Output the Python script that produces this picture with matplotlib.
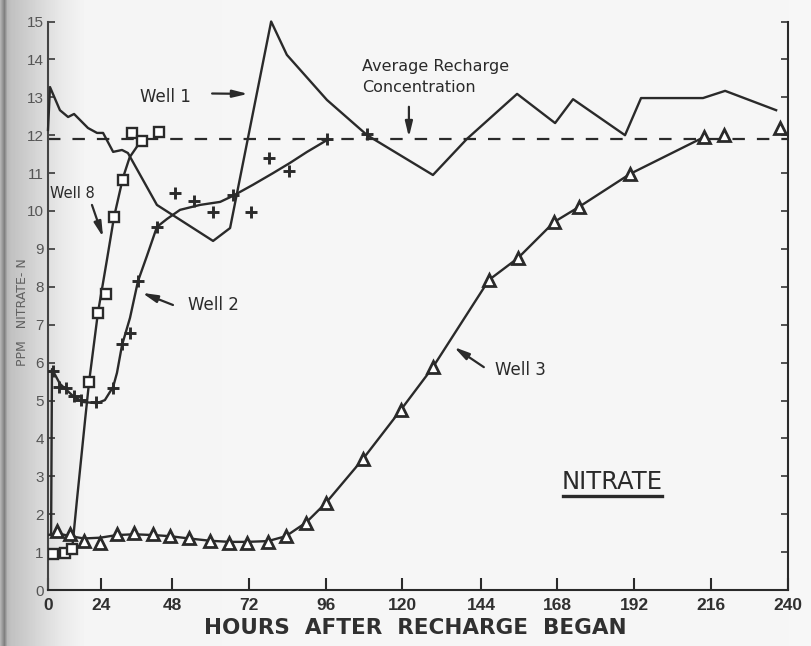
import numpy as np
import matplotlib
matplotlib.use("Agg")
import matplotlib.pyplot as plt
from matplotlib.lines import Line2D

# ---------------- data (hours after recharge began, ppm nitrate-N) ----------------
W1_HOURS = [0, 0.9, 5.4, 9.1, 11.8, 18.1, 22.2, 24.7, 28.1, 31.1, 33.1, 42.9, 60.8, 66.1,
            78.9, 83.8, 96.3, 109.0, 129.4, 139.7, 155.4, 167.4, 173.0, 189.2, 194.2,
            213.5, 220.4, 236.3]
W1_PPM = [12.14, 13.27, 12.66, 12.48, 12.56, 12.19, 12.06, 12.06, 11.56, 11.61, 11.53, 10.16,
          9.21, 9.55, 15.0, 14.12, 12.93, 12.0, 10.95, 11.9, 13.09, 12.32, 12.95, 12.0,
          12.98, 12.98, 13.17, 12.66]

W8_HOURS = [2.3, 7.7, 10.9, 18.6, 22.6, 25.7, 28.4, 31.4, 34.5, 37.9, 43.6]
W8_PPM = [0.95, 0.98, 1.08, 5.49, 7.31, 7.81, 9.84, 10.82, 12.06, 11.85, 12.08]
W8_CURVE_HOURS = [2.3, 7.7, 10.9, 13.1, 16.8, 18.6, 22.6, 26.0, 28.4, 31.4, 33.7, 37.5]
W8_CURVE_PPM = [0.95, 0.98, 1.06, 2.37, 4.49, 5.49, 7.31, 8.71, 9.84, 10.87, 11.42, 11.85]

W2_HOURS = [2.3, 5.0, 8.2, 11.8, 14.9, 21.7, 28.1, 31.1, 33.8, 36.5, 42.9, 48.9, 54.9,
            60.8, 67.0, 72.6, 78.2, 84.5, 96.3, 109.0]
W2_PPM = [5.78, 5.36, 5.33, 5.12, 5.01, 4.96, 5.33, 6.49, 6.78, 8.15, 9.58, 10.47, 10.26,
          9.97, 10.42, 9.97, 11.40, 11.06, 11.90, 12.03]
W2_CURVE_HOURS = [1.4, 1.8, 5.4, 11.3, 15.9, 22.2, 25.3, 28.1, 29.4, 31.1, 33.8, 36.5, 39.5,
                  42.9, 46.3, 50.5, 56.7, 63.0, 67.0, 73.2, 79.5, 84.8, 90.1, 96.3]
W2_CURVE_PPM = [1.45, 5.83, 5.44, 5.12, 4.96, 4.93, 5.01, 5.36, 5.73, 6.46, 7.18, 8.15, 8.81,
                9.58, 9.79, 10.03, 10.16, 10.24, 10.40, 10.69, 11.00, 11.27, 11.56, 11.87]

W3_HOURS = [4.1, 10.0, 16.3, 23.6, 29.4, 35.2, 41.6, 47.3, 53.3, 59.8, 65.8, 71.4, 77.9,
            83.5, 89.8, 96.0, 107.7, 119.7, 129.4, 146.5, 155.7, 167.1, 174.9, 190.8,
            213.8, 220.1, 237.5]
W3_PPM = [1.55, 1.47, 1.30, 1.25, 1.47, 1.50, 1.48, 1.42, 1.36, 1.30, 1.25, 1.25, 1.27,
          1.42, 1.78, 2.30, 3.46, 4.76, 5.88, 8.18, 8.76, 9.71, 10.11, 10.98, 11.95,
          12.0, 12.19]
W3_CURVE_HOURS = [0, 4.1, 10.0, 16.3, 23.6, 29.4, 35.2, 41.6, 47.3, 53.3, 59.8, 65.8, 71.4,
                  77.9, 83.5, 89.8, 96.0, 107.7, 119.7, 129.4, 146.5, 155.7, 167.1, 174.9,
                  190.8, 213.8]
W3_CURVE_PPM = [1.45, 1.50, 1.42, 1.36, 1.38, 1.45, 1.47, 1.45, 1.42, 1.36, 1.30, 1.27, 1.27,
                1.29, 1.42, 1.78, 2.30, 3.46, 4.76, 5.88, 8.18, 8.76, 9.71, 10.11, 10.98,
                11.95]

AVG_RECHARGE = 11.9

X_TICKS = [0, 24, 48, 72, 96, 120, 144, 168, 192, 216, 240]
X_TICK_LABELS = ["0", "24", "48", "72", "96", "120", "144", "168", "192", "216", "240"]
Y_TICKS = list(range(0, 16))

# ---------------- style ----------------
INK = "#2a2a2a"
PAPER = "#f6f6f4"
# page curvature of the scan near the binding (axis position of each hour tick)
WARP_POS = [0, 17.19, 40.22, 65.19, 90.16, 114.81, 140.43, 165.08, 190.05, 215.03, 240]


def fwd(h):
    return np.interp(h, X_TICKS, WARP_POS)


def inv(p):
    return np.interp(p, WARP_POS, X_TICKS)


fig = plt.figure(figsize=(8.12, 6.46), dpi=100)
fig.patch.set_facecolor(PAPER)

# scan shadow near the binding
bg = fig.add_axes([0, 0, 1, 1], zorder=-10)
xs = np.linspace(0, 812, 812)
shade = np.interp(xs, [0, 4, 7, 11, 25, 40, 60, 85, 812],
                  [0.70, 0.50, 0.72, 0.76, 0.80, 0.85, 0.91, 0.96, 0.965])
img = np.tile(shade, (10, 1))
bg.imshow(img, cmap="gray", vmin=0, vmax=1, aspect="auto", extent=[0, 1, 0, 1])
bg.set_axis_off()

ax = fig.add_axes([48 / 812, 56 / 646, 740 / 812, 568.5 / 646])
ax.set_facecolor("none")
ax.set_xscale("function", functions=(fwd, inv))
ax.set_xlim(0, 240)
ax.set_ylim(0, 15)

# average recharge concentration
ax.axhline(AVG_RECHARGE, color=INK, lw=1.6, dashes=(5.6, 5.4), zorder=2)

# Well 1
ax.plot(W1_HOURS, W1_PPM, color=INK, lw=1.7, zorder=3, clip_on=False)

# Well 8
ax.plot(W8_CURVE_HOURS, W8_CURVE_PPM, color=INK, lw=1.7, zorder=3)
ax.plot(W8_HOURS, W8_PPM, ls="none", marker="s", ms=7, mfc="white", mec=INK, mew=1.7, zorder=4)

# Well 2
ax.plot(W2_CURVE_HOURS, W2_CURVE_PPM, color=INK, lw=1.7, zorder=3)
ax.plot(W2_HOURS, W2_PPM, ls="none", marker="+", ms=8, mec=INK, mew=2.1, zorder=4)

# Well 3
ax.plot(W3_CURVE_HOURS, W3_CURVE_PPM, color=INK, lw=1.7, zorder=3)
ax.plot(W3_HOURS, W3_PPM, ls="none", marker="^", ms=8.5, mfc="white", mec=INK, mew=2.0, zorder=4,
        clip_on=False)

# axes styling
ax.spines["top"].set_visible(False)
for s in ["left", "right", "bottom"]:
    ax.spines[s].set_linewidth(1.5)
    ax.spines[s].set_color(INK)
ax.spines["left"].set_color("#444444")

ax.set_xticks(X_TICKS)
ax.set_xticklabels(X_TICK_LABELS)
ax.set_yticks(Y_TICKS)
ax.set_yticklabels([str(v) for v in Y_TICKS])
ax.minorticks_off()
ax.tick_params(axis="x", direction="in", length=9, width=1.5, color=INK, pad=6,
               labelsize=12.5, labelcolor="#303030")
ax.tick_params(axis="y", direction="in", length=5, width=1.3, color="#444444", pad=3,
               labelsize=11, labelcolor="#555555", right=True, labelright=False)
for lab in ax.get_xticklabels():
    lab.set_fontfamily("Liberation Sans")
    lab.set_fontweight("bold")
for lab in ax.get_yticklabels():
    lab.set_fontfamily("Liberation Sans")

# labels
fig.text(415 / 812, 1 - 628 / 646, "HOURS  AFTER  RECHARGE  BEGAN", ha="center", va="center",
         fontsize=15.5, fontweight="bold", color="#303030", family="DejaVu Sans")
fig.text(23 / 812, 1 - 312 / 646, "PPM   NITRATE- N", rotation=90, ha="center", va="center",
         fontsize=9, color="#606060", family="DejaVu Sans")

# annotations
TXT = dict(color=INK, family="DejaVu Sans")
ARW = dict(arrowstyle="-|>,head_length=0.9,head_width=0.22", color=INK, lw=1.6,
           shrinkA=0, shrinkB=0)

ax.text(37.2, 13.0, "Well 1", ha="left", va="center", fontsize=12, **TXT)
ax.annotate("", xy=(71.7, 13.09), xytext=(60.5, 13.1), arrowprops=ARW)

ax.text(107.4, 13.8, "Average Recharge", ha="left", va="center", fontsize=11.5, **TXT)
ax.text(107.4, 13.25, "Concentration", ha="left", va="center", fontsize=11.5, **TXT)
ax.annotate("", xy=(122.1, 11.95), xytext=(122.1, 12.75), arrowprops=ARW)

ax.text(0.9, 10.45, "Well 8", ha="left", va="center", fontsize=10.5, **TXT)
ax.annotate("", xy=(24.7, 9.31), xytext=(19.9, 10.16), arrowprops=ARW)

ax.text(53.0, 7.52, "Well 2", ha="left", va="center", fontsize=12, **TXT)
ax.annotate("", xy=(37.9, 7.84), xytext=(48.3, 7.52), arrowprops=ARW)

ax.text(148.4, 5.80, "Well 3", ha="left", va="center", fontsize=12, **TXT)
ax.annotate("", xy=(135.8, 6.41), xytext=(144.9, 5.88), arrowprops=ARW)

nit = ax.text(185.2, 2.85, "NITRATE", ha="center", va="center", fontsize=17.5, **TXT)

fig.canvas.draw()
bb = nit.get_window_extent()
x0, y0 = fig.transFigure.inverted().transform((bb.x0 + 1, bb.y0 - 2))
x1, _ = fig.transFigure.inverted().transform((bb.x1 - 1, bb.y0))
fig.add_artist(Line2D([x0, x1], [y0, y0], transform=fig.transFigure, color=INK, lw=2.4))

fig.savefig("out.png", dpi=100, facecolor=fig.get_facecolor())
